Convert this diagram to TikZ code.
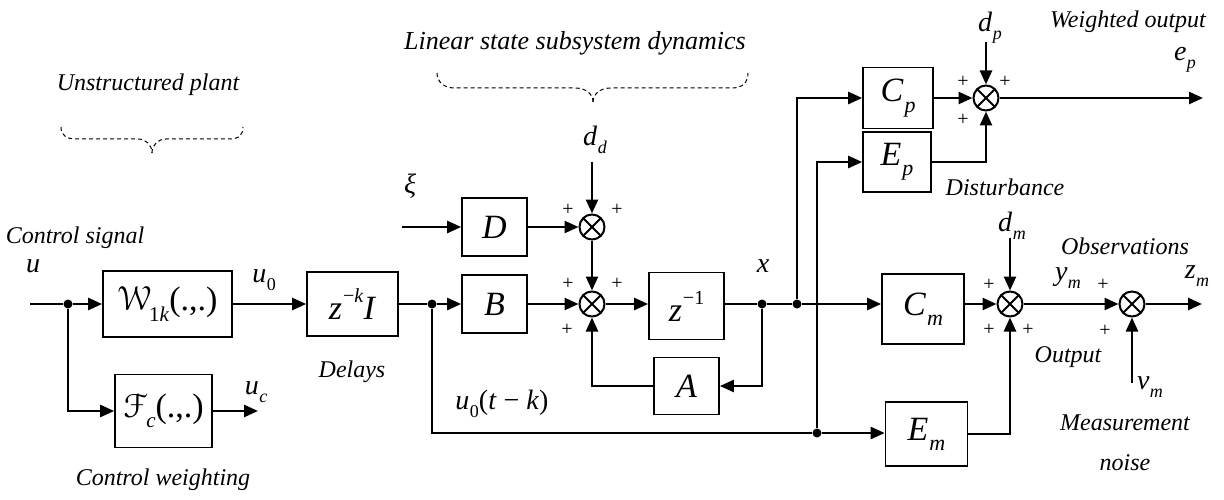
\documentclass[tikz,border=0pt]{standalone}
\usepackage[mathcal]{eucal}
\usepackage{fontspec}
\setmainfont{Liberation Serif}
\newfontfamily\tfam{Liberation Serif}
\usetikzlibrary{arrows.meta}
\newcommand{\vsub}[2]{\textit{#1}\kern0.5pt\raisebox{-0.3em}{\fontsize{18}{20}\selectfont #2}}
\newcommand{\bsub}[2]{\textit{#1}\kern1pt\raisebox{-0.3em}{\fontsize{22}{24}\selectfont #2}}
\newcommand{\vsup}[2]{\textit{#1}\kern1pt\raisebox{0.5em}{\fontsize{20}{22}\selectfont #2}}
\begin{document}
\begin{tikzpicture}[x=1pt,y=-1pt,
  blk/.style={draw,line width=1.7pt,inner sep=0pt,font=\fontsize{34}{38}\selectfont\tfam},
  sig/.style={line width=2.5pt,-{Triangle[length=14pt,width=12pt]}},
  wire/.style={line width=2.5pt},
  sumn/.style={circle,draw,line width=2pt,minimum size=25pt,inner sep=0pt,
    path picture={\draw[line width=2pt] (path picture bounding box.south west)--(path picture bounding box.north east)
      (path picture bounding box.north west)--(path picture bounding box.south east);}},
  dot/.style={circle,fill,inner sep=0pt,minimum size=9pt},
  lbl/.style={font=\fontsize{24}{28}\selectfont\tfam\itshape},
  mlbl/.style={font=\fontsize{28}{32}\selectfont\tfam},
  pl/.style={font=\fontsize{20}{22}\selectfont\tfam},
  brace/.style={dash pattern=on 4pt off 3pt, line width=1pt}
]
\fill[white] (0,0) rectangle (1224,500);
\useasboundingbox (0,0) rectangle (1224,500);

% blocks
\node[blk,minimum width=129pt,minimum height=66pt] (W) at (167.5,304) {$\mathcal{W}$\kern-2pt\raisebox{-0.3em}{\fontsize{21}{22}\selectfont 1\textit{k}}(.,.)};
\node[blk,minimum width=97pt,minimum height=73pt] (F) at (163.5,411) {$\mathcal{F}$\raisebox{-0.3em}{\fontsize{21}{22}\selectfont\textit{c}}(.,.)};
\node[blk,minimum width=91pt,minimum height=64pt] (Z) at (352.5,304) {\vsup{z}{−\textit{k}}\textit{I}};
\node[blk,minimum width=65pt,minimum height=58pt] (D) at (494.5,227) {\textit{D}};
\node[blk,minimum width=65pt,minimum height=58pt] (B) at (494.5,304) {\textit{B}};
\node[sumn] (S1) at (592,227) {};
\node[sumn] (S2) at (592,304) {};
\node[blk,minimum width=75pt,minimum height=67pt] (Z1) at (686.5,306) {\vsup{z}{−1}};
\node[blk,minimum width=65pt,minimum height=57pt] (A) at (686.5,386) {\textit{A}};
\node[blk,minimum width=70pt,minimum height=61pt] (Cp) at (898,98) {\bsub{C}{\textit{p}}};
\node[blk,minimum width=68pt,minimum height=60pt] (Ep) at (897,162) {\bsub{E}{\textit{p}}};
\node[sumn] (Sp) at (986,98) {};
\node[blk,minimum width=82pt,minimum height=70pt] (Cm) at (923,309) {\bsub{C}{\textit{m}}};
\node[blk,minimum width=82pt,minimum height=64pt] (Em) at (926.5,434) {\bsub{E}{\textit{m}}};
\node[sumn] (Sm) at (1010,304) {};
\node[sumn] (Sv) at (1132,304) {};

% junctions and free ends
\coordinate (uin) at (30,304);
\node[dot] (j0) at (68,304) {};
\node[dot] (j1) at (432,304) {};
\node[dot] (j3) at (762,304) {};
\node[dot] (j4) at (797,304) {};
\node[dot] (j5) at (817,433) {};
\coordinate (ucout) at (258,411);
\coordinate (xiin) at (402,227);
\coordinate (ddin) at (592,162);
\coordinate (dpin) at (986,42);
\coordinate (epout) at (1203,98);
\coordinate (dmin) at (1010,238);
\coordinate (vmin) at (1132,383);
\coordinate (zmout) at (1202,304);

% connectors
\draw[wire] (uin) -- (j0);
\draw[sig] (j0) -- (W);
\draw[sig] (j0) |- (F);
\draw[sig] (F) -- (ucout);
\draw[sig] (W) -- (Z);
\draw[wire] (Z) -- (j1);
\draw[sig] (j1) -- (B);
\draw[sig] (xiin) -- (D);
\draw[sig] (D) -- (S1);
\draw[sig] (ddin) -- (S1);
\draw[sig] (S1) -- (S2);
\draw[sig] (B) -- (S2);
\draw[sig] (S2) -- (S2 -| Z1.west);
\draw[wire] (Z1.east |- j3) -- (j3) -- (j4);
\draw[sig] (j4) -- (j4 -| Cm.west);
\draw[sig] (j3) |- (A);
\draw[sig] (A) -| (S2);
\draw[wire] (j1) |- (j5);
\draw[sig] (j5) -- (j5 -| Em.west);
\draw[sig] (j5) |- (Ep);
\draw[sig] (j4) |- (Cp);
\draw[sig] (Cp) -- (Sp);
\draw[sig] (Ep) -| (Sp);
\draw[sig] (dpin) -- (Sp);
\draw[sig] (Sp) -- (epout);
\draw[sig] (Cm.east |- Sm) -- (Sm);
\draw[sig] (Em) -| (Sm);
\draw[sig] (dmin) -- (Sm);
\draw[sig] (Sm) -- (Sv);
\draw[sig] (vmin) -- (Sv);
\draw[sig] (Sv) -- (zmout);

% plus signs
\node[pl] (p1) at (568,210) {+};
\node[pl] (p2) at (617,210) {+};
\node[pl] (p3) at (568,284) {+};
\node[pl] (p4) at (617,284) {+};
\node[pl] (p5) at (567,330) {+};
\node[pl] (p6) at (963,82) {+};
\node[pl] (p7) at (1005,82) {+};
\node[pl] (p8) at (963,120) {+};
\node[pl] (p9) at (989,285) {+};
\node[pl] (p10) at (989,330) {+};
\node[pl] (p11) at (1028,330) {+};
\node[pl] (p12) at (1103,285) {+};
\node[pl] (p13) at (1105,331) {+};

% signal labels
\node[mlbl] (lu) at (33,266) {\textit{u}};
\node[mlbl] (lu0) at (264,280) {\vsub{u}{0}};
\node[mlbl] (luc) at (256,392) {\vsub{u}{\textit{c}}};
\node[mlbl] (lxi) at (410,186) {\textit{ξ}};
\node[mlbl] (ldd) at (595,140) {\vsub{d}{\textit{d}}};
\node[mlbl] (lx) at (763,266) {\textit{x}};
\node[mlbl] (lut) at (502,404) {\vsub{u}{0}(\textit{t} − \textit{k})};
\node[mlbl] (ldp) at (990,28) {\vsub{d}{\textit{p}}};
\node[mlbl] (lep) at (1185,60) {\vsub{e}{\textit{p}}};
\node[mlbl] (ldm) at (1012,226) {\vsub{d}{\textit{m}}};
\node[mlbl] (lym) at (1068,278) {\vsub{y}{\textit{m}}};
\node[mlbl] (lzm) at (1197,276) {\vsub{z}{\textit{m}}};
\node[mlbl] (lvm) at (1150,387) {\vsub{v}{\textit{m}}};

% text labels
\node[lbl] (tcs) at (75,238) {Control signal};
\node[lbl] (tcw) at (163,480) {Control weighting};
\node[lbl] (tup) at (148,85) {Unstructured plant};
\node[lbl,font=\fontsize{26}{30}\selectfont\tfam\itshape] (tls) at (575,43) {Linear state subsystem dynamics};
\node[lbl] (tdl) at (352,372) {Delays};
\node[lbl] (two) at (1128,22) {Weighted output};
\node[lbl] (tdi) at (1005,187) {Disturbance};
\node[lbl] (tob) at (1125,246) {Observations};
\node[lbl] (tou) at (1068,357) {Output};
\node[lbl] (tme) at (1125,423) {Measurement};
\node[lbl] (tno) at (1125,463) {noise};

% braces
\draw[brace] (61,127) .. controls (61,135) and (66,139) .. (76,139) -- (138,139) .. controls (146,139) and (152,145) .. (152,153);
\draw[brace] (152,153) .. controls (152,145) and (158,139) .. (166,139) -- (229,139) .. controls (239,139) and (243,135) .. (243,127);
\draw[brace] (437,73) .. controls (437,82) and (444,88) .. (455,88) -- (575,88) .. controls (586,88) and (593,94) .. (593,102);
\draw[brace] (593,102) .. controls (593,94) and (600,88) .. (611,88) -- (732,88) .. controls (743,88) and (748,82) .. (748,73);
\end{tikzpicture}
\end{document}
